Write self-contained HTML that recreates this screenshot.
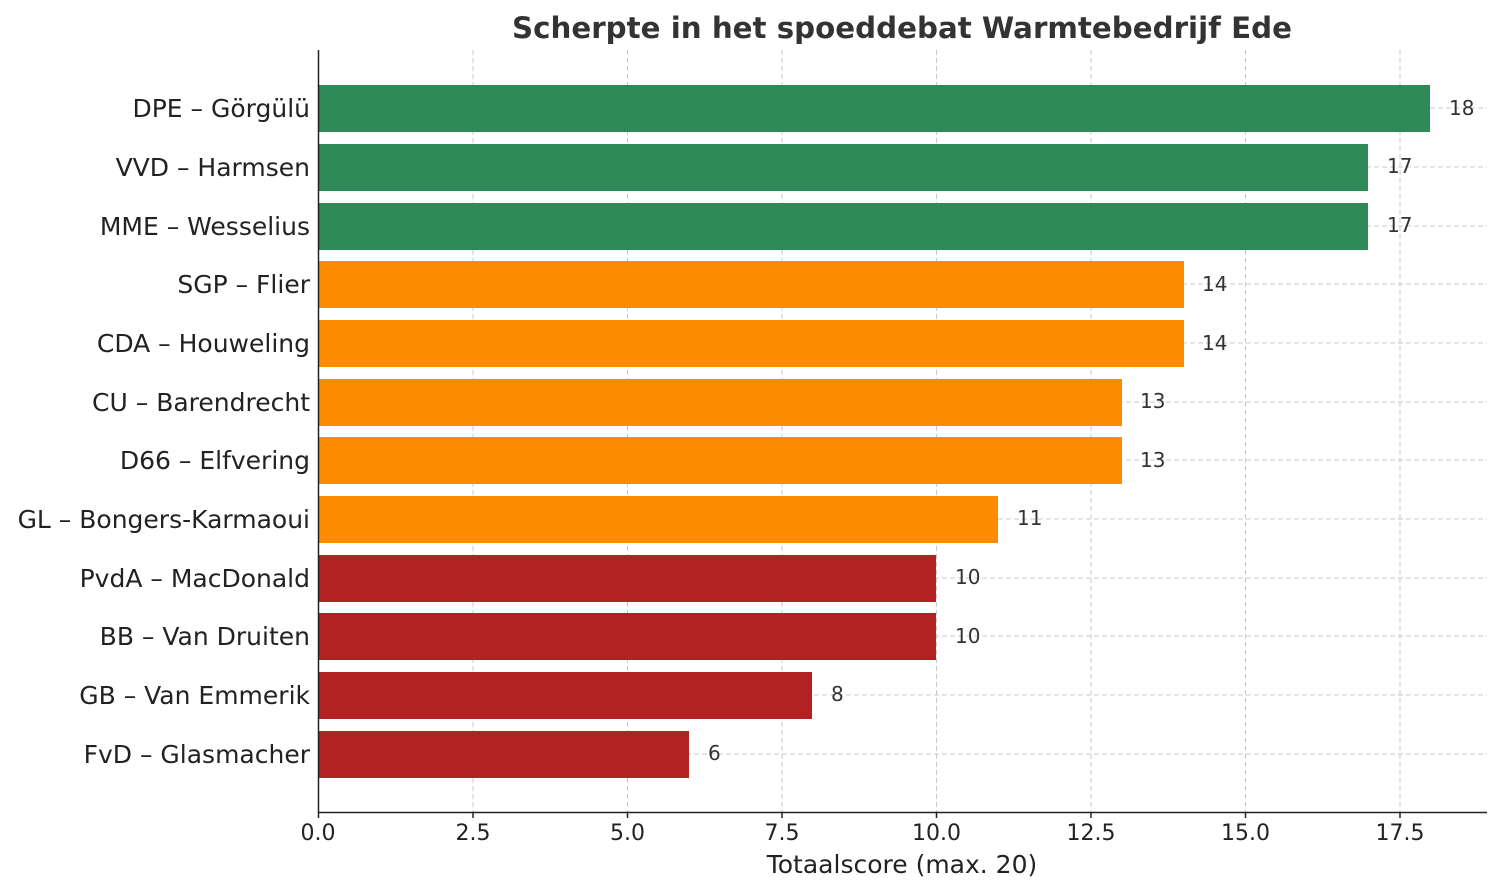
<!DOCTYPE html>
<html><head><meta charset="utf-8"><style>
html,body{margin:0;padding:0;background:#fff;}
svg{display:block;font-family:"DejaVu Sans","Liberation Sans",sans-serif;}
</style></head><body>
<svg width="1500" height="894" viewBox="0 0 1500 894" xmlns="http://www.w3.org/2000/svg">
<rect width="1500" height="894" fill="#fff"/>
<text x="902" y="38" text-anchor="middle" font-size="29.3" font-weight="bold" fill="#333">Scherpte in het spoeddebat Warmtebedrijf Ede</text>
<g stroke="#c8c8c8" stroke-width="1" stroke-dasharray="5,3">
<line x1="473" y1="50" x2="473" y2="812"/>
<line x1="627.5" y1="50" x2="627.5" y2="812"/>
<line x1="782" y1="50" x2="782" y2="812"/>
<line x1="936.5" y1="50" x2="936.5" y2="812"/>
<line x1="1091" y1="50" x2="1091" y2="812"/>
<line x1="1245.5" y1="50" x2="1245.5" y2="812"/>
<line x1="1400" y1="50" x2="1400" y2="812"/>
<line x1="318" y1="108" x2="1487" y2="108"/>
<line x1="318" y1="167" x2="1487" y2="167"/>
<line x1="318" y1="226" x2="1487" y2="226"/>
<line x1="318" y1="284" x2="1487" y2="284"/>
<line x1="318" y1="343" x2="1487" y2="343"/>
<line x1="318" y1="402" x2="1487" y2="402"/>
<line x1="318" y1="460" x2="1487" y2="460"/>
<line x1="318" y1="519" x2="1487" y2="519"/>
<line x1="318" y1="578" x2="1487" y2="578"/>
<line x1="318" y1="636" x2="1487" y2="636"/>
<line x1="318" y1="695" x2="1487" y2="695"/>
<line x1="318" y1="754" x2="1487" y2="754"/>
</g>
<g>
<rect x="318" y="85" width="1112" height="47" fill="#2e8b57"/>
<rect x="318" y="144" width="1050" height="47" fill="#2e8b57"/>
<rect x="318" y="203" width="1050" height="47" fill="#2e8b57"/>
<rect x="318" y="261" width="866" height="47" fill="#ff8c00"/>
<rect x="318" y="320" width="866" height="47" fill="#ff8c00"/>
<rect x="318" y="379" width="804" height="47" fill="#ff8c00"/>
<rect x="318" y="437" width="804" height="47" fill="#ff8c00"/>
<rect x="318" y="496" width="680" height="47" fill="#ff8c00"/>
<rect x="318" y="555" width="618" height="47" fill="#b22222"/>
<rect x="318" y="613" width="618" height="47" fill="#b22222"/>
<rect x="318" y="672" width="494" height="47" fill="#b22222"/>
<rect x="318" y="731" width="371" height="47" fill="#b22222"/>
</g>
<g font-size="20" fill="#333">
<text x="1449" y="115">18</text>
<text x="1387" y="173">17</text>
<text x="1387" y="232">17</text>
<text x="1202" y="291">14</text>
<text x="1202" y="350">14</text>
<text x="1140" y="408">13</text>
<text x="1140" y="467">13</text>
<text x="1017" y="525">11</text>
<text x="955" y="584">10</text>
<text x="955" y="643">10</text>
<text x="831" y="701">8</text>
<text x="708" y="760">6</text>
</g>
<g font-size="25" fill="#222" text-anchor="end">
<text x="310" y="117">DPE – Görgülü</text>
<text x="310" y="176">VVD – Harmsen</text>
<text x="310" y="235">MME – Wesselius</text>
<text x="310" y="293">SGP – Flier</text>
<text x="310" y="352">CDA – Houweling</text>
<text x="310" y="411">CU – Barendrecht</text>
<text x="310" y="469">D66 – Elfvering</text>
<text x="310" y="528">GL – Bongers-Karmaoui</text>
<text x="310" y="587">PvdA – MacDonald</text>
<text x="310" y="645">BB – Van Druiten</text>
<text x="310" y="704">GB – Van Emmerik</text>
<text x="310" y="763">FvD – Glasmacher</text>
</g>
<g stroke="#222" stroke-width="1.5">
<line x1="318.5" y1="50" x2="318.5" y2="812.5"/>
<line x1="318" y1="812.5" x2="1487" y2="812.5"/>
<line x1="318.5" y1="812" x2="318.5" y2="818"/>
<line x1="473" y1="812" x2="473" y2="818"/>
<line x1="627.5" y1="812" x2="627.5" y2="818"/>
<line x1="782" y1="812" x2="782" y2="818"/>
<line x1="936.5" y1="812" x2="936.5" y2="818"/>
<line x1="1091" y1="812" x2="1091" y2="818"/>
<line x1="1245.5" y1="812" x2="1245.5" y2="818"/>
<line x1="1400" y1="812" x2="1400" y2="818"/>
</g>
<g font-size="22" fill="#222" text-anchor="middle">
<text x="318" y="840">0.0</text>
<text x="473" y="840">2.5</text>
<text x="627.5" y="840">5.0</text>
<text x="782" y="840">7.5</text>
<text x="936.5" y="840">10.0</text>
<text x="1091" y="840">12.5</text>
<text x="1245.5" y="840">15.0</text>
<text x="1400" y="840">17.5</text>
<text x="902" y="873" font-size="25">Totaalscore (max. 20)</text>
</g>
</svg>
</body></html>
